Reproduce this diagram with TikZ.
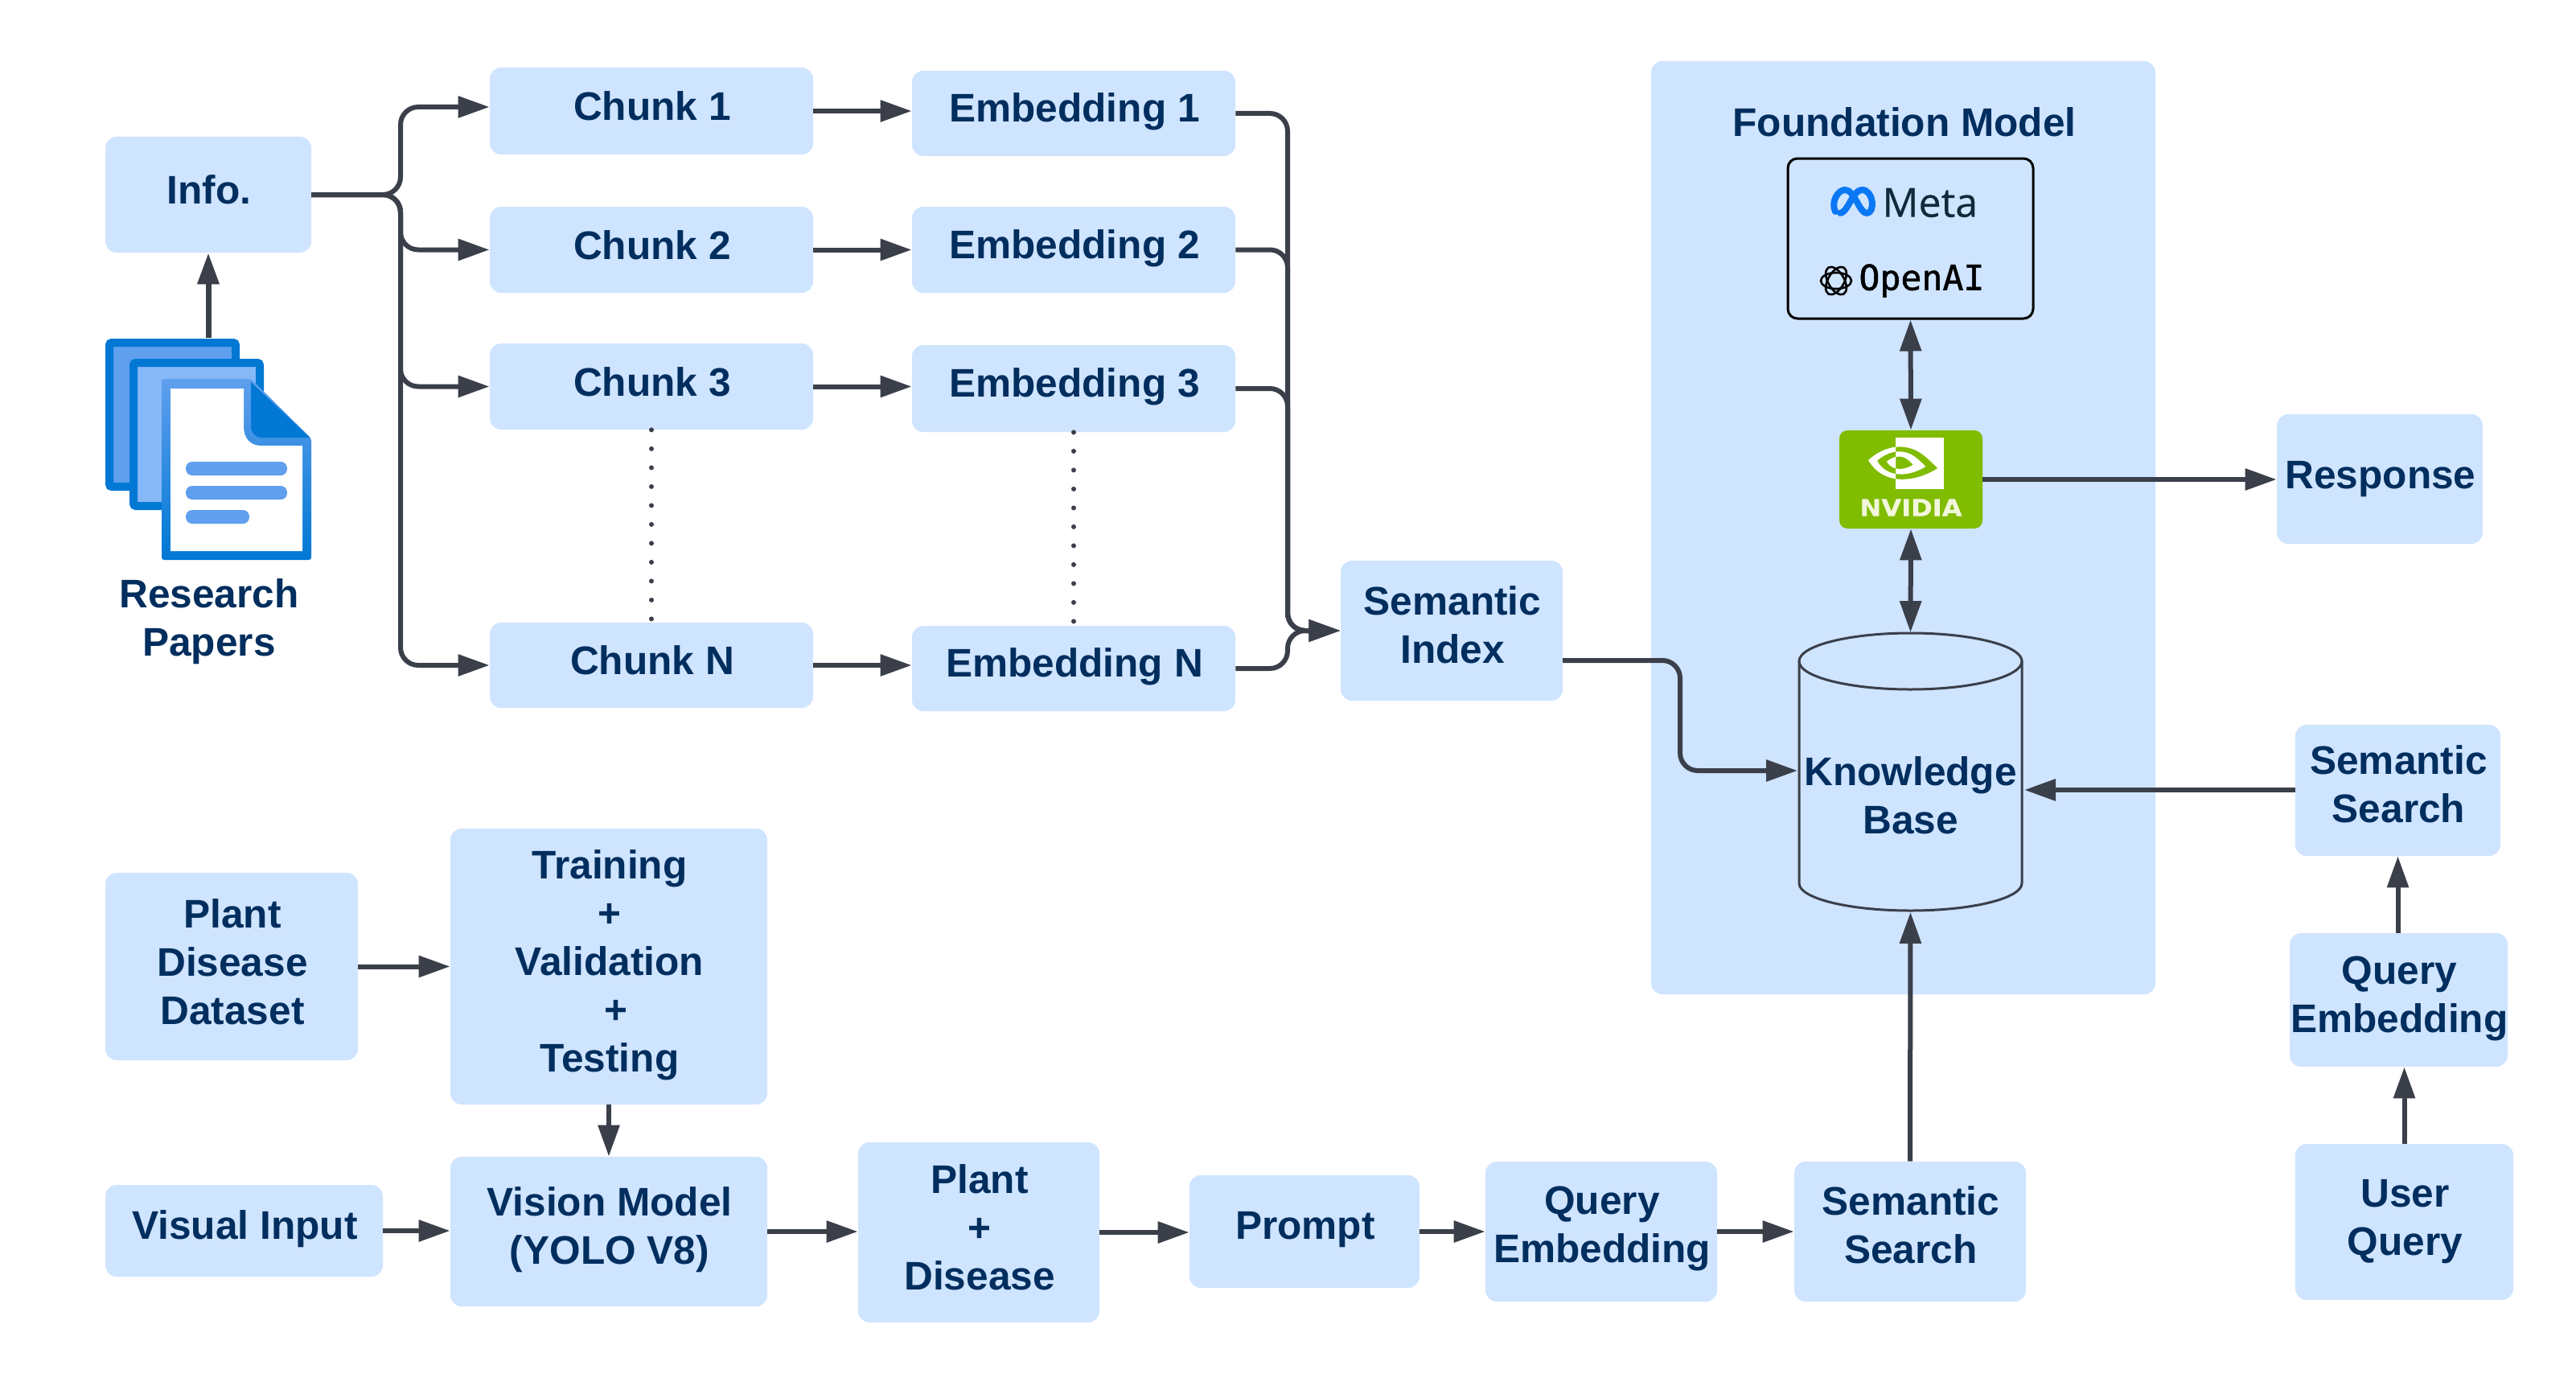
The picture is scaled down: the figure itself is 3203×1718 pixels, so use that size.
\documentclass[tikz,border=0pt]{standalone}
\usepackage{fontspec}
\setmainfont{Liberation Sans}
\newfontfamily\metafont[FakeBold=0.4]{Open Sans}
\newfontfamily\oaifont[FakeBold=1.2]{DejaVu Sans Mono}
\newfontfamily\nvfont[FakeBold=0.6]{DejaVu Sans}
\usetikzlibrary{arrows.meta}
\definecolor{boxblue}{HTML}{CFE4FF}
\definecolor{txtblue}{HTML}{002E5E}
\definecolor{linegrey}{HTML}{3A3F4A}
\definecolor{msblue}{HTML}{0078D4}
\definecolor{midblue}{HTML}{5F9FEE}
\definecolor{litblue}{HTML}{86B8F8}
\definecolor{nvgreen}{HTML}{80BC00}
\definecolor{nvtext}{HTML}{F2F7DC}
\definecolor{metablue}{HTML}{0A78F5}
\definecolor{metatext}{HTML}{0F2B3A}
\tikzset{
  box/.style={fill=boxblue,rounded corners=7pt,inner sep=0pt},
  conn/.style={draw=linegrey,line width=3pt,-{Triangle[length=19.5pt,width=13pt,inset=0pt]}},
  dconn/.style={draw=linegrey,line width=3pt,{Triangle[length=19.5pt,width=13pt,inset=0pt]}-{Triangle[length=19.5pt,width=13pt,inset=0pt]}},
  turn/.style={rounded corners=11pt},
  dotline/.style={draw=linegrey,line width=3pt,line cap=round,dash pattern=on 0pt off 11.75pt},
  plain/.style={inner sep=0pt,text=txtblue,align=center,font=\fontsize{24.8pt}{30pt}\selectfont\bfseries}
}
% \bx{name}{left}{top}{right}{bottom}{text}{text offset}, all in reference pixels
\newcommand\bx[7]{%
  \pgfmathsetlengthmacro\bw{(#4-#2)*0.5pt}%
  \pgfmathsetlengthmacro\bh{(#5-#3)*0.5pt}%
  \node[box,minimum width=\bw,minimum height=\bh] (#1) at ({(#2+#4)/2},{(#3+#5)/2}) {};
  \node[plain] (#1t) at ({(#2+#4)/2+1},{(#3+#5)/2+#7}) {#6};}
% eye of the NVIDIA logo, scaled about its centre, filled with a colour
\newcommand\nvlens[2]{\fill[#2,shift={(2360,575)},scale=#1] (-37,-3) .. controls (-20,-18) and (0,-24) .. (20,-16) .. controls (30,-12) and (40,-2) .. (49,7) .. controls (30,20) and (-15,34) .. (-37,-3) -- cycle;}
\begin{document}
\begin{tikzpicture}[x=0.5pt,y=-0.5pt]
\useasboundingbox (0,0) rectangle (3203,1718);
\fill[white] (0,0) rectangle (3203,1718);
% foundation panel
\node[box,minimum width=313.5pt,minimum height=580pt] (panel) at (2366.5,656) {};
\node[plain] (fmtitle) at (2368,152) {Foundation Model};
% boxes
\bx{info}{131}{170}{387}{314}{Info.}{-6}
\bx{c1}{609}{84}{1011}{192}{Chunk 1}{-6}
\bx{c2}{609}{257}{1011}{364}{Chunk 2}{-6}
\bx{c3}{609}{427}{1011}{534}{Chunk 3}{-6}
\bx{c4}{609}{774}{1011}{880}{Chunk N}{-6}
\bx{e1}{1134}{88}{1536}{194}{Embedding 1}{-2}
\bx{e2}{1134}{257}{1536}{364}{Embedding 2}{-2}
\bx{e3}{1134}{429}{1536}{537}{Embedding 3}{-2}
\bx{e4}{1134}{778}{1536}{884}{Embedding N}{-2}
\bx{sidx}{1667}{697}{1943}{871}{Semantic\\Index}{-7}
\bx{resp}{2831}{515}{3087}{676}{Response}{0}
\bx{ss1}{2854}{901}{3109}{1064}{Semantic\\Search}{-8}
\bx{qe1}{2847}{1160}{3118}{1326}{Query\\Embedding}{-2}
\bx{uq}{2854}{1422}{3125}{1616}{User\\Query}{0}
\bx{ss2}{2231}{1444}{2519}{1618}{Semantic\\Search}{-8}
\bx{qe2}{1847}{1444}{2135}{1618}{Query\\Embedding}{-4}
\bx{pr}{1479}{1461}{1765}{1601}{Prompt}{-2}
\bx{pd}{1067}{1420}{1367}{1644}{Plant\\+\\Disease}{-6}
\bx{vm}{560}{1438}{954}{1624}{Vision Model\\(YOLO V8)}{-2}
\bx{tr}{560}{1030}{954}{1373}{Training\\+\\Validation\\\kern8pt+\\Testing}{-2}
\bx{ds}{131}{1085}{445}{1318}{Plant\\Disease\\Dataset}{-6}
\bx{vi}{131}{1473}{476}{1587}{Visual Input}{-2}
% document icon
\node[minimum width=128pt,minimum height=138pt,inner sep=0pt] (docs) at (259,558) {};
\filldraw[fill=midblue,draw=msblue,line width=5pt,rounded corners=1.5pt] (136,426) rectangle (293,605);
\filldraw[fill=litblue,draw=msblue,line width=5pt,rounded corners=1.5pt] (166,451) rectangle (323,629);
\shade[top color=midblue,bottom color=msblue,rounded corners=1.5pt] (201,471)--(312,471)--(387,545)--(387,696)--(201,696)--cycle;
\fill[white] (212,483)--(303,483)--(303,530) .. controls (303,546) and (312,554) .. (325,554) --(376,554)--(376,685)--(212,685)--cycle;
\fill[msblue] (312,475)--(385,544)--(325,544) .. controls (318,544) and (312,538) .. (312,530) --cycle;
\fill[midblue,rounded corners=4pt] (231,574) rectangle (357,591);
\fill[midblue,rounded corners=4pt] (231,604) rectangle (357,621);
\fill[midblue,rounded corners=4pt] (231,634) rectangle (310,651);
\node[plain] (rp) at (260,773) {Research\\Papers};
% foundation logos box
\node[draw=black,line width=1.5pt,rounded corners=6pt,minimum width=152.5pt,minimum height=99.5pt,inner sep=0pt] (models) at (2375.5,296.5) {};
\draw[metablue,line width=4pt,line cap=round,line join=round]
  (2282,263) .. controls (2276,250) and (2286,236) .. (2294,236)
  .. controls (2306,236) and (2312,265) .. (2321,265)
  .. controls (2332,265) and (2330,236) .. (2315,236)
  .. controls (2304,236) and (2297,265) .. (2288,265);
\node[inner sep=0pt,anchor=west,text=metatext,font=\metafont\fontsize{25pt}{28pt}\selectfont] (meta) at (2340,252) {Meta};
\foreach \a in {0,60,120}{\draw[black,line width=1.3pt,rotate around={\a:(2283,349)}] (2283,349) ellipse [x radius=19,y radius=10];}
\node[inner sep=0pt,anchor=west,text=black,font=\oaifont\fontsize{21.6pt}{24pt}\selectfont] (oai) at (2311,349) {OpenAI};
% nvidia
\node[fill=nvgreen,rounded corners=5pt,minimum width=89pt,minimum height=61pt,inner sep=0pt] (nv) at (2376,596) {};
\fill[white] (2357,544) rectangle (2417,608);
\begin{scope}
\clip (2357,540) rectangle (2420,612);
\nvlens{1}{nvgreen}
\nvlens{0.7}{white}
\nvlens{0.38}{nvgreen}
\end{scope}
\begin{scope}
\clip (2315,540) rectangle (2357,612);
\nvlens{1}{white}
\nvlens{0.7}{nvgreen}
\nvlens{0.38}{white}
\end{scope}
\node[inner sep=0pt,text=nvtext,font=\nvfont\fontsize{14.6pt}{16pt}\selectfont\bfseries,xscale=1.1] (nvt) at (2376,631) {NVIDIA};
% knowledge base
\path[draw=linegrey,line width=1.5pt,fill=boxblue] (2237,822) -- (2237,1098) arc[start angle=180,end angle=0,x radius=138.5,y radius=34] -- (2514,822);
\draw[linegrey,line width=1.5pt] (2375.5,822) ellipse [x radius=138.5,y radius=35];
\node[minimum width=138.5pt,minimum height=173.5pt,inner sep=0pt] (kb) at (2375.5,960) {};
\node[plain] (kbt) at (2375.5,989) {Knowledge\\Base};
% connectors
\coordinate (busL) at (498,0);
\coordinate (busR) at (1601,0);
\coordinate (c1in) at ([yshift=2.5pt]c1.west);
\coordinate (kbin) at (2235,958);
\coordinate (kbin2) at (2517,982);
\coordinate (sidxout) at (1943,821);
\coordinate (kbbend) at (2089,958);
\draw[conn,line width=3.5pt] (docs.north) -- (info.south);
\draw[conn,turn] (info.east) -| (busL |- c1in) -- (c1in);
\draw[conn,turn] (info.east) -| (busL |- c2.west) -- (c2.west);
\draw[conn,turn] (info.east) -| (busL |- c3.west) -- (c3.west);
\draw[conn,turn] (info.east) -| (busL |- c4.west) -- (c4.west);
\foreach \i in {1,2,3,4}{\draw[conn] (c\i.east) -- (c\i.east -| e\i.west);}
\draw[dotline] (c3.south) -- (c4.north);
\draw[dotline] (e3.south) -- (e4.north);
\draw[conn,turn] (e1.east) -| (busR |- sidx.west) -- (sidx.west);
\draw[conn,turn] (e2.east) -| (busR |- sidx.west) -- (sidx.west);
\draw[conn,turn] (e3.east) -| (busR |- sidx.west) -- (sidx.west);
\draw[conn,turn] (e4.east) -| (busR |- sidx.west) -- (sidx.west);
\draw[conn,turn] (sidxout) -| (kbbend) -- (kbin);
\draw[dconn] (models.south) -- (nv.north);
\draw[dconn] (nv.south) -- (kb.north);
\draw[conn] (nv.east) -- (resp.west |- nv.east);
\draw[conn] (ss1.west |- kbin2) -- (kbin2);
\draw[conn] (ss1.south |- qe1.north) -- (ss1.south);
\draw[conn] (uq.north) -- (uq.north |- qe1.south);
\draw[conn] (ss2.north) -- (kb.south);
\draw[conn] (ds.east) -- (ds.east -| tr.west);
\draw[conn] (tr.south) -- (vm.north);
\draw[conn] (vi.east) -- (vm.west |- vi.east);
\draw[conn] (vm.east) -- (pd.west |- vm.east);
\draw[conn] (pd.east) -- (pr.west |- pd.east);
\draw[conn] (pr.east) -- (qe2.west |- pr.east);
\draw[conn] (qe2.east) -- (ss2.west |- qe2.east);
\end{tikzpicture}
\end{document}
